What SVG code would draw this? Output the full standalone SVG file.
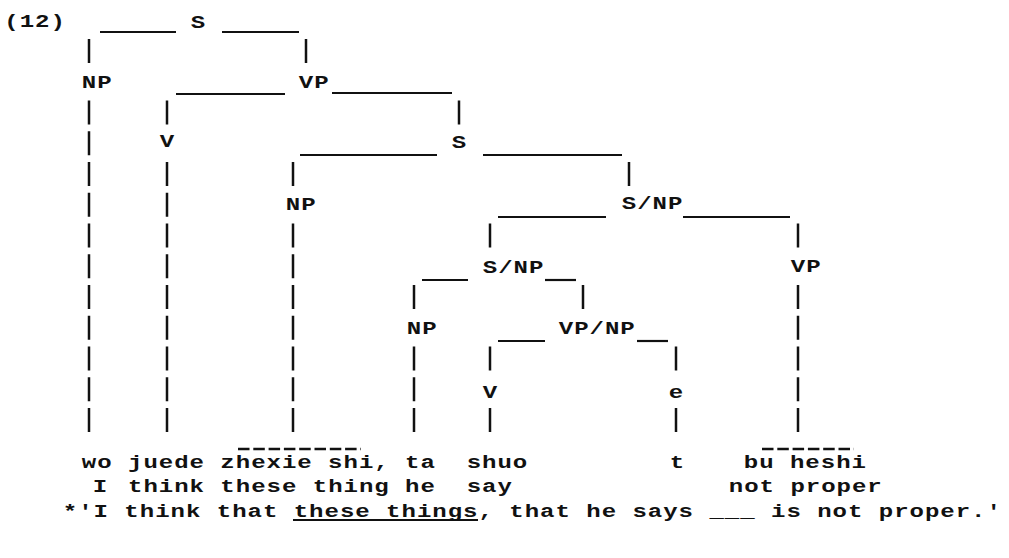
<svg xmlns="http://www.w3.org/2000/svg" width="1009" height="558" viewBox="0 0 1009 558">
  <style>
    /* typewriter lettering: monospace face widened 1.3x by the text transform, 15.4px pitch */
    .t { font-family: "Liberation Mono", "DejaVu Sans Mono", monospace; font-size: 18.5px; font-weight: bold; letter-spacing: 0.75px; fill: #111; }
    .h { stroke: #111; stroke-width: 2.2; fill: none; }
    .v { stroke: #111; stroke-width: 2.5; fill: none; stroke-dasharray: 24 6.75; }
    .d { stroke: #111; stroke-width: 2.6; fill: none; stroke-dasharray: 11.5 3.8; }
  </style>
  <rect width="1009" height="558" fill="#fff"/>

  <text class="t" transform="scale(1.3 1)" x="3.31" y="27">(12)</text>

  <!-- tree nodes -->
  <g id="n-s-top"><text class="t" transform="scale(1.3 1)" x="146.77" y="28">S</text></g>
  <g id="n-np-wo"><text class="t" transform="scale(1.3 1)" x="62.92" y="88">NP</text></g>
  <g id="n-vp-main"><text class="t" transform="scale(1.3 1)" x="229.85" y="88">VP</text></g>
  <g id="n-v-juede"><text class="t" transform="scale(1.3 1)" x="122.92" y="147">V</text></g>
  <g id="n-s-embedded"><text class="t" transform="scale(1.3 1)" x="347.54" y="148">S</text></g>
  <g id="n-np-topic"><text class="t" transform="scale(1.3 1)" x="219.85" y="210">NP</text></g>
  <g id="n-snp-upper"><text class="t" transform="scale(1.3 1)" x="478.31" y="209">S/NP</text></g>
  <g id="n-vp-right"><text class="t" transform="scale(1.3 1)" x="608.31" y="272">VP</text></g>
  <g id="n-snp-lower"><text class="t" transform="scale(1.3 1)" x="371.38" y="273">S/NP</text></g>
  <g id="n-np-ta"><text class="t" transform="scale(1.3 1)" x="312.92" y="334">NP</text></g>
  <g id="n-vpnp"><text class="t" transform="scale(1.3 1)" x="429.85" y="334">VP/NP</text></g>
  <g id="n-v-shuo"><text class="t" transform="scale(1.3 1)" x="371.38" y="398">V</text></g>
  <g id="n-e"><text class="t" transform="scale(1.3 1)" x="514.46" y="398">e</text></g>

  <!-- branches -->
  <g id="connectors">
    <!-- horizontal rules -->
    <line class="h" x1="100" y1="32" x2="176" y2="32"/>
    <line class="h" x1="222" y1="32" x2="299" y2="32"/>
    <line class="h" x1="176" y1="94" x2="285" y2="94"/>
    <line class="h" x1="332" y1="93" x2="452" y2="93"/>
    <line class="h" x1="300" y1="155" x2="437" y2="155"/>
    <line class="h" x1="483" y1="155" x2="622" y2="155"/>
    <line class="h" x1="498" y1="217" x2="606" y2="217"/>
    <line class="h" x1="683" y1="217" x2="790" y2="217"/>
    <line class="h" x1="422" y1="280" x2="468" y2="280"/>
    <line class="h" x1="545" y1="280" x2="576" y2="280"/>
    <line class="h" x1="498" y1="341" x2="545" y2="341"/>
    <line class="h" x1="637" y1="341" x2="668" y2="341"/>

    <!-- vertical strokes -->
    <line class="v" x1="89" y1="39" x2="89" y2="63"/>
    <line class="v" x1="89" y1="100.5" x2="89" y2="432"/>
    <line class="v" x1="306" y1="39" x2="306" y2="63"/>
    <line class="v" x1="167" y1="100.5" x2="167" y2="124.5"/>
    <line class="v" x1="167" y1="162" x2="167" y2="432"/>
    <line class="v" x1="459" y1="100.5" x2="459" y2="124.5"/>
    <line class="v" x1="293" y1="162" x2="293" y2="186"/>
    <line class="v" x1="293" y1="223.5" x2="293" y2="432"/>
    <line class="v" x1="629" y1="162" x2="629" y2="186"/>
    <line class="v" x1="490" y1="223.5" x2="490" y2="247.5"/>
    <line class="v" x1="798" y1="223.5" x2="798" y2="247.5"/>
    <line class="v" x1="798" y1="285" x2="798" y2="432"/>
    <line class="v" x1="583" y1="285" x2="583" y2="309"/>
    <line class="v" x1="414" y1="285" x2="414" y2="309"/>
    <line class="v" x1="414" y1="346.5" x2="414" y2="432"/>
    <line class="v" x1="490" y1="346.5" x2="490" y2="370.5"/>
    <line class="v" x1="490" y1="408" x2="490" y2="432"/>
    <line class="v" x1="676" y1="346.5" x2="676" y2="370.5"/>
    <line class="v" x1="676" y1="408" x2="676" y2="432"/>

    <!-- dashed brackets over multi-word items -->
    <line class="d" x1="238" y1="449" x2="361" y2="449"/>
    <line class="d" x1="762" y1="449" x2="854" y2="449"/>
  </g>

  <!-- words, gloss and translation -->
  <g id="words">
    <text class="t" transform="scale(1.3 1)" x="62.92" y="468" xml:space="preserve">wo juede zhexie shi, ta  shuo</text>
    <text class="t" transform="scale(1.3 1)" x="515.23" y="468">t</text>
    <text class="t" transform="scale(1.3 1)" x="572.15" y="468">bu heshi</text>
  </g>
  <g id="gloss">
    <text class="t" transform="scale(1.3 1)" x="71.38" y="492">I</text>
    <text class="t" transform="scale(1.3 1)" x="98.46" y="492" xml:space="preserve">think these thing he  say</text>
    <text class="t" transform="scale(1.3 1)" x="560.62" y="492">not proper</text>
  </g>
  <g id="translation">
    <text class="t" transform="scale(1.3 1)" x="48.31" y="517">*'I think that these things, that he says ___ is not proper.'</text>
    <line class="h" x1="293" y1="520" x2="478" y2="520"/>
  </g>
</svg>
